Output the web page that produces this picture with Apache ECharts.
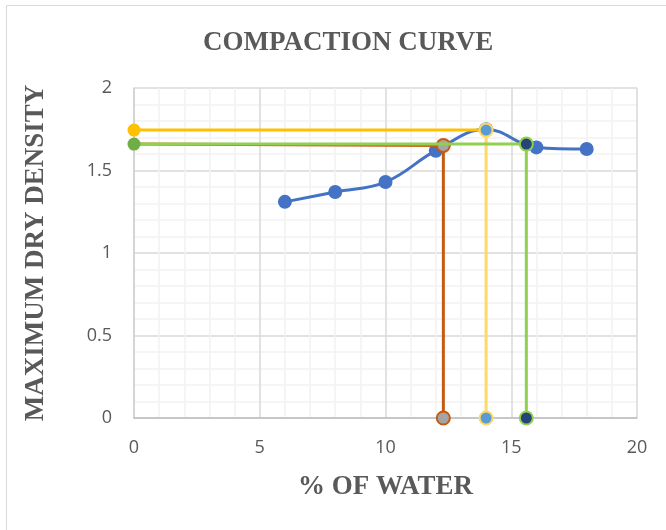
<!DOCTYPE html>
<html>
<head>
<meta charset="utf-8">
<script src="https://cdn.jsdelivr.net/npm/echarts@6/dist/echarts.min.js"></script>
<style>html,body{margin:0;padding:0;background:#fff}#c{width:666px;height:530px}</style>
</head>
<body>
<div id="c"></div>
<script>
// Data
var waterContent = [6, 8, 10, 12, 14, 16, 18];
var dryDensity = [1.31, 1.37, 1.43, 1.62, 1.75, 1.64, 1.63];
var orangeX = [0, 12.3, 12.3];
var orangeY = [1.66, 1.652, 0];
var yellowX = [0, 14, 14];
var yellowY = [1.745, 1.745, 0];
var greenX = [0, 15.6, 15.6];
var greenY = [1.66, 1.66, 0];
var xTicks = [0, 5, 10, 15, 20];
var yTicks = [0, 0.5, 1, 1.5, 2];

function pairs(xs, ys) { return xs.map(function (x, i) { return [x, ys[i]]; }); }

function guideSeries(xs, ys, hColor, vColor, startMarker, endFill, endBorder, z) {
  var pts = pairs(xs, ys);
  var mk = function (p, fill, border) {
    return { value: p, itemStyle: { color: fill, borderColor: border, borderWidth: border ? 2 : 0 } };
  };
  var first = startMarker ? mk(pts[0], startMarker, null) : { value: pts[0], symbol: 'none' };
  return [
    { type: 'line', z: z, symbol: 'circle', symbolSize: 13,
      lineStyle: { color: hColor, width: 3 },
      data: [first, { value: pts[1], symbol: 'none' }] },
    { type: 'line', z: z + 0.1, symbol: 'circle', symbolSize: 13,
      lineStyle: { color: vColor, width: 3 },
      data: [mk(pts[1], endFill, endBorder), mk(pts[2], endFill, endBorder)] }
  ];
}

var series = [
  { type: 'line', z: 2, smooth: 0.4, symbol: 'circle', symbolSize: 14,
    itemStyle: { color: '#4472C4' }, lineStyle: { color: '#4472C4', width: 3 },
    data: pairs(waterContent, dryDensity) }
];
series = series.concat(guideSeries(orangeX, orangeY, '#C55A11', '#C55A11', null, '#A5A5A5', '#C55A11', 3));
series = series.concat(guideSeries(yellowX, yellowY, '#FFC000', '#FFD966', '#FFC000', '#5B9BD5', '#FFD966', 4));
series = series.concat(guideSeries(greenX, greenY, '#92D050', '#92D050', '#70AD47', '#264478', '#92D050', 5));

var chart = echarts.init(document.getElementById('c'), null, { renderer: 'canvas' });
chart.setOption({
  animation: false,
  backgroundColor: '#fff',
  graphic: [{ type: 'rect', shape: { x: 6.5, y: 5.5, width: 680, height: 540 },
    style: { fill: 'none', stroke: '#d9d9d9', lineWidth: 1 }, z: -1 }],
  title: { text: 'COMPACTION CURVE', left: 198, top: 25,
    textStyle: { fontFamily: 'Liberation Serif', fontWeight: 'bold', fontSize: 27, color: '#595959' } },
  grid: { left: 134, right: 29, top: 88, bottom: 112 },
  xAxis: {
    type: 'value', min: xTicks[0], max: xTicks[xTicks.length - 1], interval: 5,
    name: '% OF WATER', nameLocation: 'middle', nameGap: 56,
    nameTextStyle: { fontFamily: 'Liberation Serif', fontWeight: 'bold', fontSize: 27, color: '#595959' },
    axisLine: { show: true, lineStyle: { color: '#bfbfbf', width: 1.5 } },
    axisTick: { show: false },
    axisLabel: { margin: 21, fontFamily: 'Open Sans', fontSize: 18, color: '#595959' },
    splitLine: { show: true, lineStyle: { color: '#d9d9d9', width: 1.5 } },
    minorTick: { show: false, splitNumber: 5 },
    minorSplitLine: { show: true, lineStyle: { color: '#f2f2f2', width: 1.5 } }
  },
  yAxis: {
    type: 'value', min: yTicks[0], max: yTicks[yTicks.length - 1], interval: 0.5,
    name: 'MAXIMUM DRY DENSITY', nameLocation: 'middle', nameGap: 84,
    nameTextStyle: { fontFamily: 'Liberation Serif', fontWeight: 'bold', fontSize: 27, color: '#595959' },
    axisLine: { show: true, lineStyle: { color: '#d0d0d0', width: 1.5 } },
    axisTick: { show: false },
    axisLabel: { margin: 22, fontFamily: 'Open Sans', fontSize: 18, color: '#595959' },
    splitLine: { show: true, lineStyle: { color: '#d9d9d9', width: 1.5 } },
    minorTick: { show: false, splitNumber: 5 },
    minorSplitLine: { show: true, lineStyle: { color: '#f2f2f2', width: 1.5 } }
  },
  series: series
});
</script>
</body>
</html>
